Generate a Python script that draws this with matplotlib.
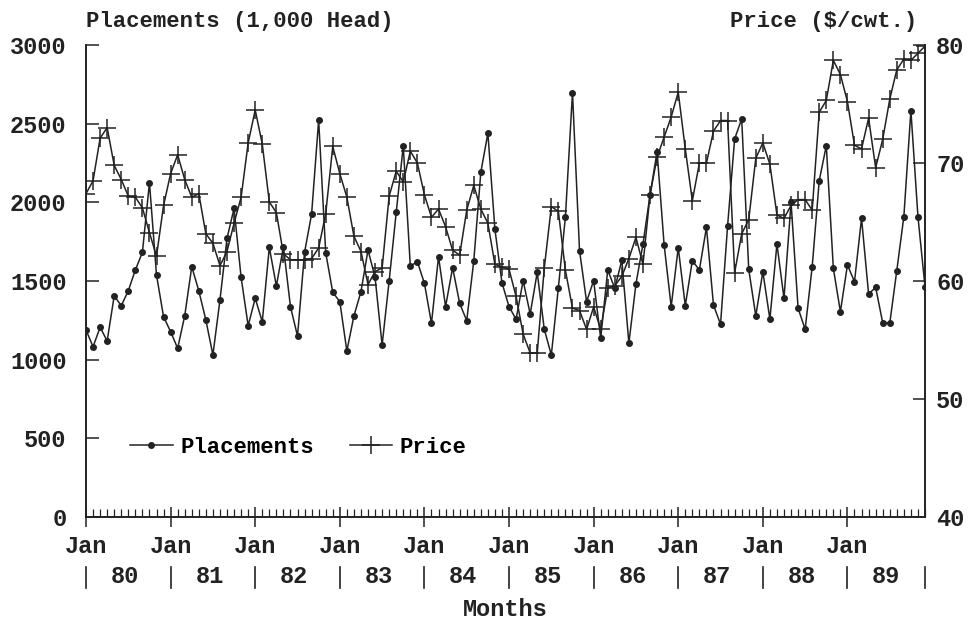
import numpy as np
import matplotlib.pyplot as plt

# monthly data, Jan 1980 .. Dec 1989
years = ['80', '81', '82', '83', '84', '85', '86', '87', '88', '89']

placements = [
    1189, 1082, 1206, 1119, 1405, 1343, 1438, 1570, 1682, 2125, 1538, 1273,
    1178, 1072, 1278, 1591, 1438, 1252, 1030, 1379, 1771, 1962, 1523, 1216,
    1390, 1241, 1714, 1468, 1718, 1337, 1150, 1682, 1926, 2523, 1680, 1428,
    1369, 1055, 1278, 1432, 1697, 1523, 1093, 1502, 1936, 2358, 1595, 1623,
    1485, 1231, 1655, 1337, 1585, 1358, 1248, 1627, 2191, 2439, 1829, 1489,
    1337, 1257, 1502, 1290, 1555, 1193, 1030, 1457, 1909, 2697, 1693, 1369,
    1502, 1136, 1570, 1453, 1633, 1104, 1481, 1735, 2047, 2322, 1729, 1337,
    1712, 1343, 1629, 1570, 1841, 1347, 1225, 1850, 2403, 2530, 1574, 1278,
    1559, 1257, 1735, 1390, 2000, 1327, 1193, 1591, 2138, 2360, 1581, 1305,
    1602, 1496, 1898, 1417, 1460, 1235, 1231, 1566, 1909, 2583, 1909, 1464,
]

price = [
    67.4, 68.5, 72.1, 73.0, 69.8, 68.6, 67.2, 67.1, 66.2, 64.1, 62.1, 66.4,
    69.1, 70.7, 68.6, 67.1, 67.4, 64.0, 63.2, 61.3, 62.5, 64.9, 67.1, 71.7,
    74.5, 71.6, 66.7, 65.8, 62.3, 61.8, 61.8, 61.8, 61.9, 62.8, 65.7, 71.4,
    69.1, 67.1, 63.8, 62.5, 59.7, 60.8, 61.1, 67.2, 69.3, 68.4, 71.0, 70.0,
    67.3, 65.4, 66.1, 64.6, 62.6, 62.2, 66.0, 68.1, 66.1, 64.9, 61.4, 61.2,
    61.0, 58.7, 55.5, 53.9, 53.9, 61.1, 66.3, 65.9, 60.9, 57.7, 57.5, 55.9,
    57.8, 55.9, 59.4, 59.6, 60.4, 61.9, 63.7, 61.4, 67.3, 70.5, 72.2, 73.9,
    76.0, 71.2, 66.8, 70.0, 70.0, 72.7, 73.6, 73.6, 60.7, 64.0, 65.2, 70.4,
    71.7, 69.9, 65.6, 65.3, 66.4, 66.9, 66.9, 66.0, 74.3, 75.3, 78.7, 77.5,
    75.2, 71.5, 71.2, 73.8, 69.6, 72.0, 75.4, 77.9, 78.8, 78.7, 79.3, 79.9,
]

plt.rcParams['font.family'] = ['Liberation Mono', 'DejaVu Sans']
plt.rcParams['font.weight'] = 'bold'
ink = '#222222'

months = np.arange(len(placements))
jan = months[::12]

fig = plt.figure(figsize=(9.72, 6.27), dpi=100)
ax = fig.add_axes([86 / 972, 1 - 517 / 627, 839 / 972, 472 / 627])
ax2 = ax.twinx()

l1, = ax.plot(months, placements, color=ink, lw=1.1, marker='o', ms=4)
l2, = ax2.plot(months, price, color=ink, lw=1.1, marker='+', ms=13, mew=1.1)

ax.set_xlim(0, len(months) - 1)
ax.set_ylim(0, 3000)
ax2.set_ylim(40, 80)
ax.set_yticks(range(0, 3001, 500))
ax2.set_yticks(range(40, 81, 10))
ax.set_xticks(jan)
ax.set_xticklabels(['Jan'] * len(jan))
ax.set_xticks(months, minor=True)

for a in (ax, ax2):
    a.spines['top'].set_visible(False)
    for s in a.spines.values():
        s.set_color(ink)
        s.set_linewidth(1.2)

ax.tick_params(axis='x', which='major', direction='inout', length=14, width=1.1,
               pad=6, labelsize=17, colors=ink)
ax.tick_params(axis='x', which='minor', direction='in', length=6, width=0.9, colors=ink)
ax.tick_params(axis='y', direction='in', length=9, width=1.1, pad=14, labelsize=17, colors=ink)
ax2.tick_params(axis='y', direction='in', length=9, width=1.1, pad=8, labelsize=17, colors=ink)

# second row under the Jan labels: | 80 | 81 | ...
xt = ax.get_xaxis_transform()
for x in list(jan) + [months[-1]]:
    ax.plot([x, x], [-0.105, -0.15], transform=xt, color=ink, lw=1.2, clip_on=False)
for x, yr in zip(jan, years):
    ax.text(x + 5.5, -0.127, yr, transform=xt, ha='center', va='center',
            fontsize=17, color=ink)

fig.text(86 / 972, 1 - 22 / 627, 'Placements (1,000 Head)', ha='left', va='center',
         fontsize=16, color=ink)
fig.text(917 / 972, 1 - 22 / 627, 'Price (\\$/cwt.)', ha='right', va='center',
         fontsize=16, color=ink)
fig.text(505 / 972, 1 - 610 / 627, 'Months', ha='center', va='center',
         fontsize=17, color=ink)

ax.legend([l1, l2], ['Placements', 'Price'], loc='center left',
          bbox_to_anchor=(0.029, 0.148), frameon=False, ncol=2, fontsize=16,
          handlelength=1.9, handletextpad=0.35, columnspacing=1.6, numpoints=1)

fig.savefig('out.png', dpi=100)
